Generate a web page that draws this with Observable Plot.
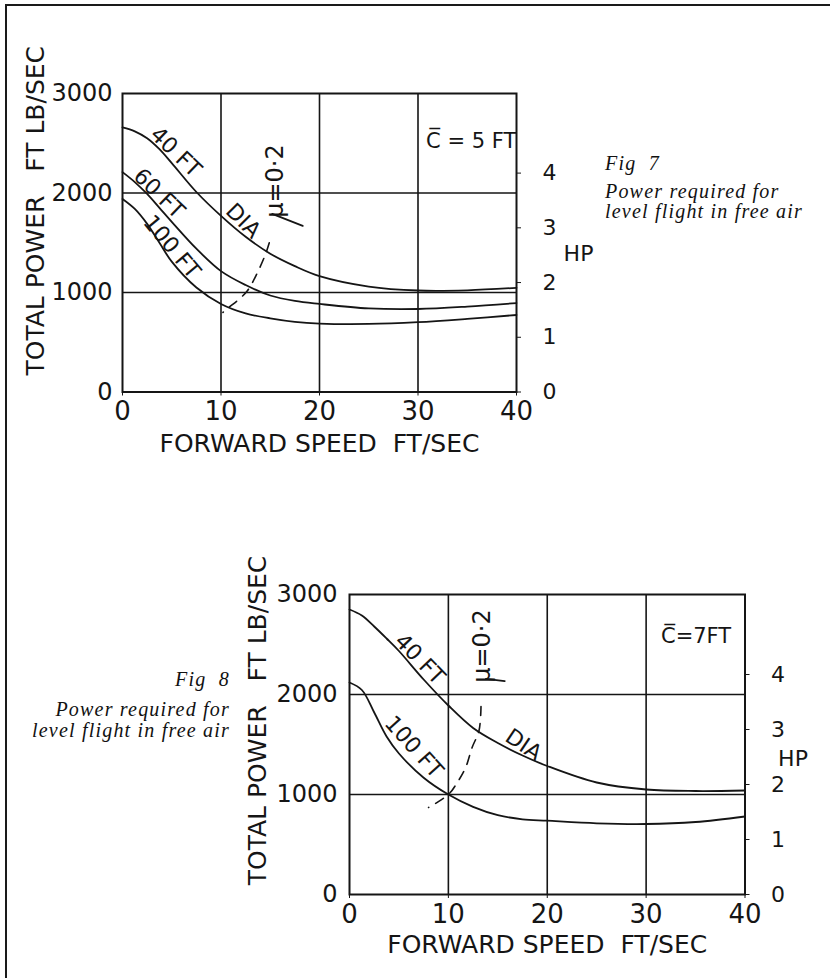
<!DOCTYPE html>
<html>
<head>
<meta charset="utf-8">
<script src="https://cdn.jsdelivr.net/npm/d3@7"></script>
<script src="https://cdn.jsdelivr.net/npm/@observablehq/plot@0.6"></script>
<style>
html,body{margin:0;padding:0;background:#fff;}
#page{position:relative;width:830px;height:978px;overflow:hidden;background:#fff;}
#border{position:absolute;left:5px;top:4px;width:840px;height:990px;border-top:2px solid #1a1a1a;border-left:2px solid #1a1a1a;}
.chart{position:absolute;left:0;}
.cap{position:absolute;font-family:"Liberation Serif","Times New Roman",serif;font-style:italic;font-size:20px;letter-spacing:1.2px;color:#111;white-space:nowrap;line-height:19px;}
.r{text-align:right;}
</style>
</head>
<body>
<div id="page">
  <div id="border"></div>
  <div id="c1" class="chart" style="top:0"></div>
  <div id="c2" class="chart" style="top:480px"></div>
  <div class="cap" style="left:605px;top:154px">Fig&nbsp;&nbsp;7</div>
  <div class="cap" style="left:605px;top:182px">Power required for</div>
  <div class="cap" style="left:605px;top:202px">level flight in free air</div>
  <div class="cap r" style="right:600px;top:670px">Fig&nbsp;&nbsp;8</div>
  <div class="cap r" style="right:600px;top:700px">Power required for</div>
  <div class="cap r" style="right:600px;top:721px">level flight in free air</div>
</div>
<script>
// ---------- data ----------
const speed = [0, 1.25, 2.5, 3.75, 5, 7.5, 10, 12.5, 15, 17.5, 20, 25, 30, 35, 40];

// Fig 7  (C = 5 ft)
const fig7Dia40  = [2660, 2620, 2550, 2440, 2300, 2010, 1770, 1560, 1390, 1265, 1165, 1060, 1020, 1022, 1047];
const fig7Dia60  = [2210, 2110, 1990, 1850, 1710, 1440, 1215, 1075, 970, 915, 885, 840, 834, 858, 894];
const fig7Dia100 = [1940, 1840, 1690, 1500, 1310, 1050, 885, 790, 740, 705, 688, 684, 702, 735, 774];
const fig7MuSpeed = [14.9, 14.5, 13.6, 12.7, 11.8, 10.8, 10.2];
const fig7MuPower = [1500, 1380, 1180, 1020, 930, 850, 800];

// Fig 8  (C = 7 ft)
const fig8Dia40  = [2850, 2790, 2680, 2560, 2435, 2150, 1890, 1665, 1515, 1390, 1285, 1120, 1050, 1035, 1040];
const fig8Dia100 = [2120, 2045, 1820, 1580, 1410, 1168, 1000, 877, 794, 752, 738, 712, 705, 725, 780];
const fig8MuSpeed = [13.3, 13.1, 12.4, 11.75, 10.9, 10.0, 8.0];
const fig8MuPower = [1880, 1640, 1470, 1270, 1120, 1000, 870];

// axes
const xTicks = [0, 10, 20, 30, 40];
const yTicks = [0, 1000, 2000, 3000];
const hpTicks = [0, 1, 2, 3, 4];
const FTLB_PER_HP = 550;

// annotations (data coordinates)
const fig7Labels = [
  {text: "40 FT",  x: 5.4,  y: 2411, rotate: 44},
  {text: "60 FT",  x: 3.7,  y: 1994, rotate: 44},
  {text: "100 FT", x: 5.0,  y: 1458, rotate: 50},
  {text: "DIA",    x: 12.25, y: 1719, rotate: 45}
];
const fig8Labels = [
  {text: "40 FT",  x: 7.1,  y: 2354, rotate: 46},
  {text: "100 FT", x: 6.5,  y: 1475, rotate: 48},
  {text: "DIA",    x: 17.6, y: 1495, rotate: 34}
];
const fig7Chord = {text: "C\u0305 = 5 FT", x: 35.4, y: 2520};
const fig8Chord = {text: "C\u0305=7FT", x: 35.05, y: 2579};
const fig7MuLabel = {text: "\u03bc=0\u00b72", x: 15.5, y: 2120};
const fig8MuLabel = {text: "\u03bc=0\u00b72", x: 13.4, y: 2484};
const fig7MuLeaderX = [15.2, 18.3], fig7MuLeaderY = [1790, 1670];
const fig8MuLeaderX = [13.8, 15.7], fig8MuLeaderY = [2157, 2133];
const fig7HpLabelY = 1386, fig8HpLabelY = 1360;

const INK = "#151515";
const SANS = "DejaVu Sans, sans-serif";

function makeChart(cfg) {
  const rows = cfg.series.flatMap(s => speed.map((x, i) => ({x, y: s.values[i], name: s.name})));
  const mu = cfg.muX.map((x, i) => ({x, y: cfg.muY[i]}));
  const leader = cfg.leadX.map((x, i) => ({x, y: cfg.leadY[i]}));
  return Plot.plot({
    width: 830,
    height: cfg.height,
    marginLeft: cfg.left,
    marginRight: 830 - cfg.right,
    marginTop: cfg.top,
    marginBottom: cfg.height - cfg.bottom,
    x: {domain: [0, 40], label: null},
    y: {domain: [0, 3000], label: null},
    style: {background: "transparent", fontFamily: SANS, color: INK, overflow: "visible"},
    marks: [
      Plot.gridX([10, 20, 30], {stroke: INK, strokeOpacity: 1, strokeWidth: 1.6}),
      Plot.gridY([1000, 2000], {stroke: INK, strokeOpacity: 1, strokeWidth: 1.6}),
      Plot.frame({stroke: INK, strokeWidth: 2}),
      Plot.axisX(xTicks, {anchor: "bottom", tickSize: 4, tickPadding: 6, fontSize: 26, label: null, stroke: INK,
        tickFormat: d => String(d)}),
      Plot.axisY(yTicks, {anchor: "left", tickSize: 0, tickPadding: cfg.yPad, fontSize: 24, label: null,
        tickFormat: d => String(d)}),
      Plot.axisY(hpTicks.map(h => h * FTLB_PER_HP), {anchor: "right", tickSize: 4, tickPadding: 22, fontSize: 22,
        tickFormat: d => String(Math.round(d / FTLB_PER_HP)), label: null, stroke: INK}),
      Plot.line(rows, {x: "x", y: "y", z: "name", curve: "catmull-rom", stroke: INK, strokeWidth: 1.8}),
      Plot.line(mu, {x: "x", y: "y", curve: "catmull-rom", stroke: INK, strokeWidth: 1.6, strokeDasharray: "9,8"}),
      Plot.line(leader, {x: "x", y: "y", stroke: INK, strokeWidth: 1.8}),
      Plot.text(cfg.labels, {x: "x", y: "y", text: "text", rotate: d => d.rotate, fontSize: 22, fill: INK}),
      Plot.text([cfg.chord], {x: "x", y: "y", text: "text", fontSize: 21, fill: INK}),
      Plot.text([cfg.muLabel], {x: "x", y: "y", text: "text", rotate: -90, fontSize: 24, fill: INK}),
      Plot.text(["HP"], {frameAnchor: "right", y: () => cfg.hpY, text: d => d, dx: cfg.hpDx,
        textAnchor: "middle", fontSize: 22, fill: INK}),
      Plot.text(["FORWARD SPEED\u00a0\u00a0FT/SEC"], {frameAnchor: "bottom", text: d => d, dy: cfg.xTitleDy,
        textAnchor: "middle", lineAnchor: "middle", fontSize: 25, fill: INK}),
      Plot.text(["TOTAL POWER\u00a0\u00a0\u00a0FT LB/SEC"], {frameAnchor: "left", text: d => d, rotate: -90,
        textAnchor: "middle", lineAnchor: "middle", dx: cfg.yTitleDx, dy: cfg.yTitleDy, fontSize: 25, fill: INK})
    ]
  });
}

document.getElementById("c1").appendChild(makeChart({
  height: 480, left: 122, right: 516, top: 93, bottom: 391.5, yPad: 10,
  series: [
    {name: "40 FT", values: fig7Dia40},
    {name: "60 FT", values: fig7Dia60},
    {name: "100 FT", values: fig7Dia100}
  ],
  muX: fig7MuSpeed, muY: fig7MuPower, leadX: fig7MuLeaderX, leadY: fig7MuLeaderY,
  labels: fig7Labels, chord: fig7Chord, muLabel: fig7MuLabel,
  hpY: fig7HpLabelY, hpDx: 62, xTitleDy: 52, yTitleDx: -87, yTitleDy: -32
}));

document.getElementById("c2").appendChild(makeChart({
  height: 498, left: 349, right: 744.5, top: 114, bottom: 414, yPad: 12,
  series: [
    {name: "40 FT", values: fig8Dia40},
    {name: "100 FT", values: fig8Dia100}
  ],
  muX: fig8MuSpeed, muY: fig8MuPower, leadX: fig8MuLeaderX, leadY: fig8MuLeaderY,
  labels: fig8Labels, chord: fig8Chord, muLabel: fig8MuLabel,
  hpY: fig8HpLabelY, hpDx: 48, xTitleDy: 50, yTitleDx: -92, yTitleDy: -24
}));
</script>
</body>
</html>
